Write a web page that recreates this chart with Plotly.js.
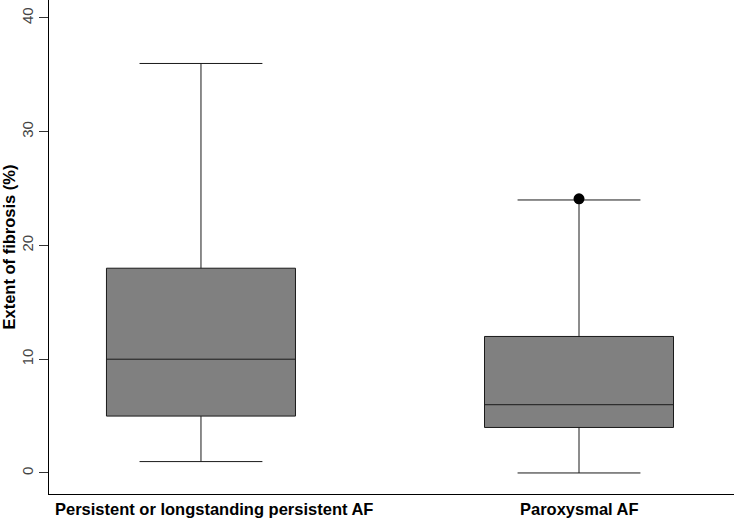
<!DOCTYPE html>
<html>
<head>
<meta charset="utf-8">
<script src="https://cdn.plot.ly/plotly-3.0.1.min.js"></script>
<style>html,body{margin:0;padding:0;background:#fff;}#chart{width:734px;height:519px;}</style>
</head>
<body>
<div id="chart"></div>
<script>
const categories = ["Persistent or longstanding persistent AF", "Paroxysmal AF"];
const lowerWhisker = [1, 0];
const q1 = [5, 4];
const median = [10, 6];
const q3 = [18, 12];
const upperWhisker = [36, 24];
const outlierCategory = ["Paroxysmal AF"];
const outlierValue = [24.1];
const yTicks = [0, 10, 20, 30, 40];
const labelShift = [13, 0];

const traces = [
  {
    type: 'box',
    x: categories,
    q1: q1,
    median: median,
    q3: q3,
    lowerfence: lowerWhisker,
    upperfence: upperWhisker,
    fillcolor: '#808080',
    line: {color: '#1a1a1a', width: 1},
    width: 0.5,
    whiskerwidth: 0.65,
    boxpoints: false,
    hoverinfo: 'none'
  },
  {
    type: 'scatter',
    mode: 'markers',
    x: outlierCategory,
    y: outlierValue,
    marker: {color: '#000000', size: 11},
    hoverinfo: 'none'
  }
];

const annotations = categories.map((c, i) => ({
  x: c, xref: 'x',
  y: 0, yref: 'paper',
  yanchor: 'top', xanchor: 'center',
  yshift: -4, xshift: labelShift[i],
  text: '<b>' + c + '</b>',
  showarrow: false,
  font: {size: 16.5, color: '#000'}
}));

const layout = {
  width: 734,
  height: 519,
  margin: {l: 49, r: 0, t: 0, b: 25, pad: 0},
  paper_bgcolor: '#ffffff',
  plot_bgcolor: '#ffffff',
  showlegend: false,
  font: {family: 'Liberation Sans, Arial, sans-serif', color: '#000'},
  annotations: annotations,
  xaxis: {
    type: 'category',
    range: [-0.402, 1.41],
    showline: true,
    linecolor: '#000',
    linewidth: 1,
    showgrid: false,
    zeroline: false,
    ticks: '',
    showticklabels: false,
    automargin: false
  },
  yaxis: {
    range: [-1.85, 41.58],
    tickvals: yTicks,
    ticktext: yTicks.map(String),
    tickangle: -90,
    ticks: 'outside',
    ticklen: 9,
    tickcolor: '#333',
    tickfont: {size: 15, color: '#444'},
    showline: true,
    linecolor: '#000',
    linewidth: 1,
    showgrid: false,
    zeroline: false,
    automargin: false,
    title: {text: 'Extent of fibrosis (%)', font: {size: 16.5, color: '#000', weight: 'bold'}, standoff: 3}
  }
};

Plotly.newPlot('chart', traces, layout, {displayModeBar: false, staticPlot: true});
</script>
</body>
</html>
